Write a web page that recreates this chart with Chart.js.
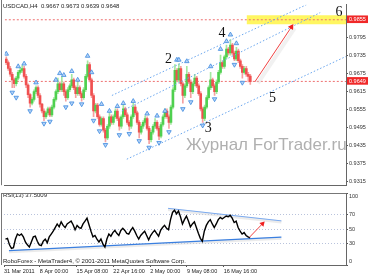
<!DOCTYPE html>
<html><head><meta charset="utf-8">
<script src="https://cdn.jsdelivr.net/npm/chart.js@4/dist/chart.umd.min.js"></script>
<style>
html,body{margin:0;padding:0;background:#fff;width:368px;height:276px;overflow:hidden}
#main{position:absolute;left:0;top:0}
#rsi{position:absolute;left:0;top:189px}
</style></head><body>
<canvas id="main" width="368" height="190"></canvas>
<canvas id="rsi" width="368" height="87"></canvas>
<script>
// ---------- DATA ----------
const titleText = 'USDCAD,H4  0.9667 0.9673 0.9639 0.9648';
const rsiTitle = 'RSI(13) 37.5009';
const copyright = 'RoboForex - MetaTrader4, \u00A9 2001-2011 MetaQuotes Software Corp.';
const watermark = '\u0416\u0443\u0440\u043D\u0430\u043B ForTrader.ru';

const dateTickPos = [-0.75, 17.25, 35.75, 54.25, 72.75, 91.25, 109.75];
const dateTickLabels = ['31 Mar 2011','8 Apr 00:00','15 Apr 08:00','22 Apr 16:00','2 May 00:00','9 May 08:00','16 May 16:00'];
const priceTicks = [0.9855,0.9795,0.9735,0.9675,0.9649,0.9615,0.9555,0.9495,0.9435,0.9375,0.9315];
const markedPrices = [0.9855, 0.9649];
const rsiTicks = [100,70,50,30,0];
const rsiLevels = [70,50,30];

const barOpen = [.9724,.9712,.9692,.9673,.9654,.9641,.9660,.9679,.9686,.9692,
 .9666,.9637,.9605,.9576,.9589,.9615,.9628,.9602,.9573,.9550,
 .9531,.9544,.9557,.9537,.9563,.9589,.9615,.9641,.9621,.9641,
 .9615,.9595,.9621,.9634,.9654,.9628,.9608,.9628,.9608,.9595,
 .9621,.9666,.9705,.9654,.9602,.9550,.9570,.9531,.9505,.9525,
 .9486,.9460,.9499,.9531,.9512,.9531,.9550,.9525,.9499,.9531,
 .9557,.9537,.9512,.9499,.9531,.9563,.9544,.9512,.9479,.9499,
 .9512,.9525,.9492,.9454,.9479,.9499,.9512,.9492,.9466,.9505,
 .9531,.9550,.9531,.9512,.9563,.9621,.9686,.9654,.9692,.9641,
 .9602,.9634,.9673,.9647,.9615,.9641,.9660,.9634,.9608,.9557,
 .9525,.9563,.9595,.9628,.9654,.9634,.9615,.9647,.9679,.9712,
 .9699,.9731,.9757,.9744,.9770,.9744,.9724,.9750,.9718,.9699,
 .9679,.9692,.9673,.9667];
const barHigh = [.9731,.9718,.9699,.9679,.9660,.9666,.9686,.9695,.9702,.9699,
 .9673,.9641,.9608,.9595,.9621,.9634,.9634,.9608,.9576,.9557,
 .9550,.9563,.9563,.9570,.9595,.9621,.9660,.9647,.9666,.9647,
 .9621,.9628,.9641,.9673,.9660,.9634,.9647,.9634,.9615,.9628,
 .9673,.9718,.9712,.9660,.9608,.9576,.9576,.9537,.9531,.9531,
 .9492,.9505,.9544,.9537,.9537,.9557,.9557,.9531,.9537,.9570,
 .9563,.9544,.9518,.9537,.9576,.9570,.9550,.9518,.9505,.9518,
 .9534,.9531,.9499,.9486,.9505,.9525,.9518,.9499,.9512,.9537,
 .9557,.9557,.9537,.9570,.9628,.9705,.9692,.9708,.9699,.9647,
 .9641,.9699,.9679,.9654,.9647,.9673,.9666,.9641,.9615,.9563,
 .9570,.9602,.9634,.9679,.9660,.9641,.9654,.9686,.9737,.9718,
 .9737,.9770,.9763,.9789,.9776,.9750,.9763,.9757,.9724,.9705,
 .9699,.9699,.9679,.9673];
const barLow = [.9705,.9686,.9666,.9628,.9628,.9634,.9654,.9673,.9679,.9660,
 .9628,.9595,.9563,.9570,.9583,.9608,.9595,.9563,.9544,.9518,
 .9525,.9537,.9531,.9531,.9557,.9583,.9608,.9615,.9615,.9602,
 .9583,.9589,.9615,.9628,.9621,.9595,.9602,.9602,.9583,.9589,
 .9615,.9660,.9647,.9595,.9531,.9544,.9525,.9499,.9499,.9479,
 .9447,.9454,.9492,.9505,.9505,.9525,.9518,.9486,.9492,.9525,
 .9531,.9505,.9486,.9492,.9525,.9537,.9505,.9460,.9473,.9492,
 .9505,.9486,.9441,.9447,.9473,.9492,.9486,.9454,.9460,.9499,
 .9525,.9525,.9492,.9505,.9557,.9615,.9647,.9647,.9634,.9576,
 .9595,.9628,.9641,.9595,.9608,.9634,.9628,.9602,.9550,.9512,
 .9518,.9557,.9589,.9621,.9628,.9602,.9608,.9641,.9673,.9692,
 .9692,.9724,.9737,.9737,.9737,.9718,.9718,.9712,.9692,.9660,
 .9673,.9666,.9647,.9639];
const barClose = [.9712,.9692,.9673,.9654,.9641,.9660,.9679,.9686,.9692,.9666,
 .9637,.9605,.9576,.9589,.9615,.9628,.9602,.9573,.9550,.9531,
 .9544,.9557,.9537,.9563,.9589,.9615,.9641,.9621,.9641,.9615,
 .9595,.9621,.9634,.9654,.9628,.9608,.9628,.9608,.9595,.9621,
 .9666,.9705,.9654,.9602,.9550,.9570,.9531,.9505,.9525,.9486,
 .9460,.9499,.9531,.9512,.9531,.9550,.9525,.9499,.9531,.9557,
 .9537,.9512,.9499,.9531,.9563,.9544,.9512,.9479,.9499,.9512,
 .9525,.9492,.9454,.9479,.9499,.9512,.9492,.9466,.9505,.9531,
 .9550,.9531,.9512,.9563,.9621,.9686,.9654,.9692,.9641,.9602,
 .9634,.9673,.9647,.9615,.9641,.9660,.9634,.9608,.9557,.9525,
 .9563,.9595,.9628,.9654,.9634,.9615,.9647,.9679,.9712,.9699,
 .9731,.9757,.9744,.9770,.9744,.9724,.9750,.9718,.9699,.9679,
 .9692,.9673,.9666,.9648];

const rsiValues = [36,37,28,23,24,36,43,41,43,39,
 32,28,25,32,39,40,33,28,27,33,
 36,31,39,43,47,52,57,53,60,55,
 52,57,59,61,56,49,55,52,51,57,
 61,65,56,47,39,41,36,32,36,29,
 25,36,43,40,45,48,44,41,48,51,
 48,44,43,48,52,47,41,36,41,44,
 47,41,35,41,45,48,44,40,48,52,
 55,51,49,63,73,76,71,75,67,57,
 63,68,61,53,57,60,52,44,37,33,
 47,55,60,63,57,52,57,63,66,64,
 66,68,67,69,65,59,61,52,47,43,
 45,41,39,37.5009];

const fracUpBar   = [0,6,9,15,25,27,29,33,36,41,43,48,52,56,59,64,71,76,80,86,87,91,103,108,111,113,116];
const fracUpPrice = [.9741,.9699,.9708,.9645,.9654,.9676,.9670,.9683,.9654,.9734,.9679,.9573,.9550,.9566,.9576,.9583,.9541,.9534,.9550,.9721,.9721,.9716,.9699,.9757,.9783,.9805,.9776];
const fracDnBar   = [3,5,12,19,22,30,33,38,44,47,50,57,62,67,72,77,82,89,93,99,105,115,119];
const fracDnPrice = [.9612,.9595,.9550,.9508,.9515,.9563,.9576,.9573,.9518,.9483,.9437,.9470,.9474,.9450,.9428,.9444,.9480,.9557,.9580,.9502,.9590,.9705,.9645];

const waveLabels = ['2','4','3','5','6'];
const waveIdx    = [81.75,108.75,101.75,134.25,167.75];
const wavePrice  = [0.9724,0.9808,0.9492,0.9592,0.9879];

const targetLevel = 0.9855, lastLevel = 0.9649;
const targetZone = [121.25, 171.25];
const channelUpper = [[53.25,0.9602],[151.25,0.9905]];
const channelMid   = [[58.25,0.9550],[158.25,0.9879]];
const channelLower = [[60.75,0.9389],[171.75,0.9734]];
const arrowMain = [[125.25,0.9647],[143.75,0.9831]];
const rsiSupport = [[1.75,20],[138.75,38.7]];
const rsiResist  = [[81.75,78.7],[138.75,61.3]];
const rsiArrow   = [[122.75,38.7],[129.25,57.3]];

// ---------- CONFIG ----------
const xMin = -0.75, xMax = 171.25;
const FONT = 'Liberation Sans';
const pts = a => a.map(p => ({x:p[0], y:p[1]}));
const upCol = '#4fd04f', dnCol = '#f05050', upWick = '#a4e8a0', dnWick = '#f5a0a0';
const isUp = i => barClose[i] >= barOpen[i];
const idx = barOpen.map((_, i) => i);

function lineDs(data, color, width, dash, order, extra) {
  return Object.assign({type:'line', data: pts(data), borderColor: color, borderWidth: width,
    borderDash: dash || [], pointRadius: 0, fill: false, tension: 0, order: order}, extra || {});
}

const mainDatasets = [
  lineDs([[targetZone[0], targetLevel],[targetZone[1], targetLevel]], 'rgba(255,245,80,0.9)', 9, null, 30),
  lineDs([[xMin, targetLevel],[xMax, targetLevel]], '#ee7070', 1, [2,2], 25),
  lineDs([[xMin, lastLevel],[xMax, lastLevel]], '#ee7070', 1, [2,2], 25),
  {type:'bar', data: idx.map(i => ({x:i, y:[barLow[i], barHigh[i]]})),
    backgroundColor: idx.map(i => isUp(i) ? upWick : dnWick), barThickness: 1, maxBarThickness: 1, grouped: false, order: 20},
  {type:'bar', data: idx.map(i => ({x:i, y:[barOpen[i], barClose[i]]})),
    backgroundColor: idx.map(i => isUp(i) ? upCol : dnCol), barThickness: 2, maxBarThickness: 2, grouped: false, minBarLength: 1, order: 19},
  lineDs(channelUpper, '#6aa6ee', 1, [1.5,2], 10),
  lineDs(channelMid, '#6aa6ee', 1, [1.5,2], 10),
  lineDs(channelLower, '#6aa6ee', 1, [1.5,2], 10),
  {type:'scatter', data: fracUpBar.map((b,k) => ({x:b, y:fracUpPrice[k]})), pointStyle:'triangle', pointRadius:2.6,
    backgroundColor:'#b5d3f7', borderColor:'#3d8ae0', borderWidth:0.8, order: 8},
  {type:'scatter', data: fracDnBar.map((b,k) => ({x:b, y:fracDnPrice[k]})), pointStyle:'triangle', rotation:180, pointRadius:2.6,
    backgroundColor:'#b5d3f7', borderColor:'#3d8ae0', borderWidth:0.8, order: 8},
  lineDs(arrowMain.map(p => [p[0]+1.6, p[1]-0.0004]), 'rgba(215,215,215,0.35)', 4, null, 6),
  lineDs(arrowMain, '#f04040', 1, null, 5),
  {type:'scatter', data: pts([arrowMain[1]]), pointStyle:'triangle', rotation:33, pointRadius:3.5,
    backgroundColor:'#f02020', borderColor:'#f02020', borderWidth:0, order: 4}
];

const mainText = {
  id: 'mainText',
  afterDatasetsDraw(chart) {
    const {ctx, scales: {x, y}, chartArea} = chart;
    ctx.save();
    ctx.font = '17px "' + FONT + '"'; ctx.fillStyle = '#b0b0b0';
    ctx.textAlign = 'left'; ctx.textBaseline = 'alphabetic';
    ctx.fillText(watermark, 186, 150);
    ctx.font = '14px "Liberation Serif"'; ctx.fillStyle = '#111';
    ctx.textAlign = 'center'; ctx.textBaseline = 'middle';
    waveLabels.forEach((t, k) => ctx.fillText(t, x.getPixelForValue(waveIdx[k]), y.getPixelForValue(wavePrice[k])));
    ctx.font = '6px "' + FONT + '"'; ctx.fillStyle = '#222'; ctx.textAlign = 'left';
    ctx.fillText(titleText, 3, 6);
    ctx.strokeStyle = '#777'; ctx.lineWidth = 1;
    ctx.beginPath(); ctx.moveTo(1.5, 0); ctx.lineTo(1.5, chartArea.bottom); ctx.stroke();
    ctx.restore();
  }
};

new Chart(document.getElementById('main'), {
  type: 'bar',
  data: { datasets: mainDatasets },
  options: {
    responsive: false, animation: false, events: [],
    layout: { padding: { left: 2, top: 2, right: 0, bottom: 0 } },
    plugins: { legend: {display:false}, tooltip: {enabled:false} },
    scales: {
      x: { type:'linear', min:xMin, max:xMax, offset:false,
        afterBuildTicks: s => { s.ticks = dateTickPos.map(v => ({value:v})); },
        afterFit: s => { s.height = 1; s.paddingLeft = 0; s.paddingRight = 0; },
        ticks: { display:false }, grid: { display:false },
        border: { color:'#666', width:1 } },
      y: { position:'right', min:0.93021, max:0.9905,
        afterBuildTicks: s => { s.ticks = priceTicks.map(v => ({value:v})); },
        afterFit: s => { s.width = 22; s.paddingTop = 0; s.paddingBottom = 0; },
        grid: { drawOnChartArea:false, drawTicks:true, tickLength:2, tickColor:'#555' },
        border: { color:'#666', width:1 },
        ticks: { autoSkip:false, padding:1, font:{family:FONT, size:5.5},
          callback: v => v.toFixed(4),
          color: c => markedPrices.includes(c.tick.value) ? '#ffffff' : '#333',
          showLabelBackdrop: c => markedPrices.includes(c.tick.value),
          backdropColor: '#f02828', backdropPadding: {left:2, right:5, top:1, bottom:0} } }
    }
  },
  plugins: [mainText]
});

const rsiText = {
  id: 'rsiText',
  afterDatasetsDraw(chart) {
    const {ctx, chartArea} = chart;
    ctx.save();
    ctx.font = '6px "' + FONT + '"'; ctx.fillStyle = '#222';
    ctx.textAlign = 'left'; ctx.textBaseline = 'middle';
    ctx.fillText(rsiTitle, 3, 6);
    ctx.fillText(copyright, 3, 72);
    ctx.strokeStyle = '#777'; ctx.lineWidth = 1;
    ctx.beginPath(); ctx.moveTo(1.5, chartArea.top); ctx.lineTo(1.5, chartArea.bottom); ctx.stroke();
    ctx.beginPath(); ctx.moveTo(1.5, chartArea.top + 0.5); ctx.lineTo(chartArea.right, chartArea.top + 0.5); ctx.stroke();
    ctx.restore();
  }
};

new Chart(document.getElementById('rsi'), {
  type: 'line',
  data: { datasets: [
    lineDs(rsiSupport.map(p => [p[0], p[1]-1.5]), 'rgba(210,210,210,0.45)', 3, null, 6),
    lineDs(rsiResist.map(p => [p[0], p[1]-1.5]), 'rgba(210,210,210,0.45)', 3, null, 6),
    lineDs(rsiSupport, '#3a7fe0', 1.4, null, 5),
    lineDs(rsiResist, '#7aaaf0', 1, null, 5),
    {type:'line', data: idx.map(i => ({x:i, y:rsiValues[i]})), borderColor:'#000', borderWidth:1.4,
      pointRadius:0, tension:0, fill:false, order: 3},
    lineDs(rsiArrow, '#f04040', 1, null, 2),
    {type:'scatter', data: pts([rsiArrow[1]]), pointStyle:'triangle', rotation:43, pointRadius:3.2,
      backgroundColor:'#f02020', borderWidth:0, order: 1}
  ]},
  options: {
    responsive: false, animation: false, events: [],
    layout: { padding: { left: 2, top: 1, right: 0, bottom: 0 } },
    plugins: { legend: {display:false}, tooltip: {enabled:false} },
    scales: {
      x: { type:'linear', min:xMin, max:xMax, offset:false,
        afterBuildTicks: s => { s.ticks = dateTickPos.map(v => ({value:v})); },
        afterFit: s => { s.height = 11; s.paddingLeft = 0; s.paddingRight = 0; },
        grid: { drawOnChartArea:false, tickLength:2, tickColor:'#555' },
        border: { color:'#666', width:1 },
        ticks: { autoSkip:false, maxRotation:0, align:'start', padding:1, color:'#222',
          font:{family:FONT, size:5.5},
          callback: (v, k) => dateTickLabels[k] } },
      y: { position:'right', min:0, max:100,
        afterBuildTicks: s => { s.ticks = rsiTicks.map(v => ({value:v})); },
        afterFit: s => { s.width = 22; s.paddingTop = 0; s.paddingBottom = 0; },
        grid: { drawOnChartArea:true, tickLength:2, tickColor:'#555',
          color: c => rsiLevels.includes(c.tick.value) ? '#b9c3dc' : 'rgba(0,0,0,0)' },
        border: { color:'#666', width:1, dash:[1,2] },
        ticks: { autoSkip:false, padding:1, color:'#333', font:{family:FONT, size:5.5},
          callback: v => v === 100 ? ['', '100'] : (v === 0 ? ['0', ''] : String(v)) } }
    }
  },
  plugins: [rsiText]
});
</script>
</body></html>
